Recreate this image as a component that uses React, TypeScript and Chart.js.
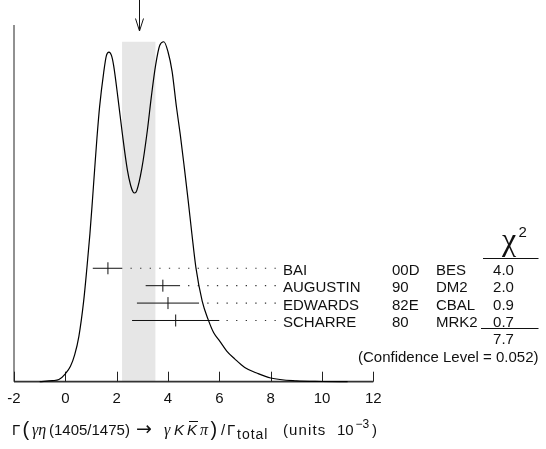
import React, { useEffect, useRef } from 'react';
import { Chart, registerables } from 'chart.js';

Chart.register(...registerables);

// Ideogram curve
const CURVE_X = [-1.0, -0.5, -0.25, 0.0, 0.2, 0.363, 0.53, 0.713, 0.842, 0.959, 1.053, 1.142, 1.232, 1.337, 1.493, 1.6, 1.7, 1.8, 1.883, 2.051, 2.222, 2.417, 2.546, 2.64, 2.7, 2.78, 2.986, 3.197, 3.353, 3.52, 3.68, 3.84, 4.0, 4.16, 4.33, 4.48, 4.64, 4.788, 4.932, 5.088, 5.333, 5.567, 5.782, 6.016, 6.29, 6.6, 6.99, 7.5, 8.0, 9.0, 10.0, 11.0];
const CURVE_Y = [0, 0.3, 0.6, 2.2, 4.3, 7.5, 12.8, 22.5, 32, 41.5, 50.5, 59.5, 68.3, 77.2, 86.6, 91.4, 92.4, 91.4, 88.6, 79.5, 69.5, 59.4, 55.0, 53.2, 52.9, 53.5, 60.0, 70.5, 80.0, 88.8, 94.3, 95.3, 92.5, 87.0, 77.0, 69.2, 59.8, 50.7, 41.4, 32.0, 22.6, 17.4, 13.7, 11.4, 8.6, 6.4, 4.0, 2.3, 1.04, 0.22, 0.05, 0];

// Measurements
const NAMES = ['BAI', 'AUGUSTIN', 'EDWARDS', 'SCHARRE'];
const YEARS = ['00D', '90', '82E', '80'];
const EXPTS = ['BES', 'DM2', 'CBAL', 'MRK2'];
const VALUES = [1.66, 3.8, 4.0, 4.3];
const ERR_LO = [0.59, 0.67, 1.21, 1.7];
const ERR_HI = [0.56, 0.67, 1.21, 1.7];
const CHI2 = ['4.0', '2.0', '0.9', '0.7'];
const CHI2_TOTAL = '7.7';
const CONF_LEVEL = '0.052';

// Fit (weighted average) and its error
const FIT_VALUE = 2.86;
const FIT_ERROR = 0.65;

const X_TICKS = [-2, 0, 2, 4, 6, 8, 10, 12];

const SANS = '"Liberation Sans", Arial, sans-serif';
const SERIF = '"Liberation Serif", "Times New Roman", serif';
const DEJAVU = '"DejaVu Sans", sans-serif';

export default function App() {
  const ref = useRef<HTMLCanvasElement>(null);

  useEffect(() => {
    const canvas = ref.current;
    if (!canvas) return;

    const rowY = (i: number) => 31.8 - i * 4.88;
    const DOT_END = 8.2;

    const datasets: any[] = [];
    datasets.push({
      data: CURVE_X.map((x, i) => ({ x, y: CURVE_Y[i] })),
      showLine: true,
      borderColor: '#000',
      borderWidth: 1.2,
      pointRadius: 0,
      cubicInterpolationMode: 'monotone',
      tension: 0.4,
      fill: false,
      clip: false,
    });
    NAMES.forEach((_, i) => {
      const y = rowY(i);
      const lo = VALUES[i] - ERR_LO[i];
      const hi = VALUES[i] + ERR_HI[i];
      datasets.push({
        data: [{ x: DOT_END, y }, { x: hi, y }],
        showLine: true,
        borderColor: '#333',
        borderWidth: 1.2,
        borderDash: [1.3, 8.3],
        pointRadius: 0,
      });
      datasets.push({
        data: [{ x: lo, y }, { x: hi, y }],
        showLine: true,
        borderColor: '#111',
        borderWidth: 1,
        pointRadius: 0,
      });
      datasets.push({
        data: [{ x: VALUES[i], y }],
        showLine: false,
        pointStyle: 'line',
        rotation: 90,
        pointRadius: 6,
        borderColor: '#111',
        borderWidth: 1,
      });
    });

    const deco = {
      id: 'deco',
      beforeDatasetsDraw(chart: any) {
        const { ctx, chartArea, scales } = chart;
        const x = scales.x;
        const y = scales.y;
        ctx.save();
        const top = y.getPixelForValue(Math.max(...CURVE_Y));
        const l = x.getPixelForValue(FIT_VALUE - FIT_ERROR);
        const r = x.getPixelForValue(FIT_VALUE + FIT_ERROR);
        ctx.fillStyle = '#e6e6e6';
        ctx.fillRect(l, top, r - l, chartArea.bottom - top);

        ctx.strokeStyle = '#222';
        ctx.lineWidth = 1;
        ctx.beginPath();
        ctx.moveTo(chartArea.left, chartArea.top);
        ctx.lineTo(chartArea.left, chartArea.bottom);
        ctx.stroke();

        ctx.lineWidth = 1.8;
        ctx.strokeStyle = '#333';
        ctx.beginPath();
        ctx.moveTo(x.getPixelForValue(X_TICKS[0]), chartArea.bottom);
        ctx.lineTo(x.getPixelForValue(X_TICKS[X_TICKS.length - 1]), chartArea.bottom);
        ctx.stroke();

        ctx.lineWidth = 1;
        ctx.strokeStyle = '#222';
        X_TICKS.forEach((t) => {
          const px = Math.round(x.getPixelForValue(t)) + 0.5;
          ctx.beginPath();
          ctx.moveTo(px, chartArea.bottom);
          ctx.lineTo(px, chartArea.bottom - 10);
          ctx.stroke();
        });
        ctx.restore();
      },
      afterDraw(chart: any) {
        const { ctx, scales } = chart;
        const x = scales.x;
        const y = scales.y;
        ctx.save();
        ctx.fillStyle = '#111';
        ctx.strokeStyle = '#111';

        // tick labels
        ctx.font = `15px ${SANS}`;
        ctx.textAlign = 'center';
        ctx.textBaseline = 'alphabetic';
        X_TICKS.forEach((t) => {
          ctx.fillText(String(t), x.getPixelForValue(t), 403);
        });

        // arrow at the fit value
        const ax = Math.round(x.getPixelForValue(FIT_VALUE)) + 0.5;
        ctx.lineWidth = 1;
        ctx.beginPath();
        ctx.moveTo(ax, 0);
        ctx.lineTo(ax, 31);
        ctx.moveTo(ax - 4, 18.5);
        ctx.lineTo(ax, 31);
        ctx.lineTo(ax + 4, 18.5);
        ctx.stroke();

        // measurement labels
        ctx.font = `15px ${SANS}`;
        NAMES.forEach((n, i) => {
          const py = y.getPixelForValue(rowY(i)) + 1.3;
          const base = py + 5.3;
          ctx.textAlign = 'left';
          ctx.fillText(n, 283, base);
          ctx.fillText(YEARS[i], 392, base);
          ctx.fillText(EXPTS[i], 436, base);
          ctx.textAlign = 'center';
          ctx.fillText(CHI2[i], 503.5, base);
        });

        // chi2 header
        ctx.textAlign = 'center';
        ctx.font = `32px ${SERIF}`;
        ctx.fillText('χ', 509, 250);
        ctx.textAlign = 'left';
        ctx.font = `15px ${SANS}`;
        ctx.fillText('2', 518.5, 237);

        ctx.lineWidth = 1;
        ctx.beginPath();
        ctx.moveTo(483, 258.5);
        ctx.lineTo(538.5, 258.5);
        ctx.moveTo(481, 328.5);
        ctx.lineTo(538.5, 328.5);
        ctx.stroke();

        ctx.textAlign = 'center';
        ctx.font = `15px ${SANS}`;
        ctx.fillText(CHI2_TOTAL, 503.5, 343.5);
        ctx.textAlign = 'right';
        ctx.fillText(`(Confidence Level = ${CONF_LEVEL})`, 538.5, 361.5);

        // x axis title, pieces placed along the baseline
        const segs: any[] = [
          { t: 'Γ', x: 12, f: `15px ${SANS}` },
          { t: '(', x: 22.5, f: `20px ${SANS}`, dy: 1 },
          { t: 'γη', x: 32, f: `italic 16px ${SERIF}` },
          { t: '(1405/1475)', x: 49, f: `15px ${SANS}` },
          { t: '→', x: 136, f: `19px ${DEJAVU}` },
          { t: 'γ', x: 164, f: `italic 16px ${SERIF}` },
          { t: 'K', x: 174, f: `italic 15px ${SANS}` },
          { t: 'K', x: 187, f: `italic 15px ${SANS}`, over: true },
          { t: 'π', x: 200, f: `italic 16px ${SERIF}` },
          { t: ')', x: 210.5, f: `20px ${SANS}`, dy: 1 },
          { t: '/', x: 221, f: `15px ${SANS}` },
          { t: 'Γ', x: 227, f: `15px ${SANS}` },
          { t: 'total', x: 237, f: `14px ${SANS}`, dy: 4, ls: 1 },
          { t: '(units', x: 283, f: `15px ${SANS}`, ls: 1.1 },
          { t: '10', x: 337, f: `15px ${SANS}` },
          { t: '−3', x: 355.5, f: `12px ${SANS}`, dy: -7 },
          { t: ')', x: 372, f: `15px ${SANS}` },
        ];
        ctx.textAlign = 'left';
        const baseY = 435;
        const c2: any = ctx;
        segs.forEach((s) => {
          ctx.font = s.f;
          c2.letterSpacing = s.ls ? `${s.ls}px` : '0px';
          const nat = ctx.measureText(s.t).width;
          ctx.fillText(s.t, s.x, baseY + (s.dy || 0));
          if (s.over) {
            ctx.beginPath();
            ctx.moveTo(s.x + 2, 421.5);
            ctx.lineTo(s.x + nat + 1, 421.5);
            ctx.stroke();
          }
        });
        c2.letterSpacing = '0px';

        ctx.restore();
      },
    };

    const chart = new Chart(canvas, {
      type: 'scatter',
      data: { datasets },
      options: {
        animation: false,
        responsive: false,
        events: [],
        layout: { padding: { left: 14, right: 172.7, top: 25, bottom: 67.3 } },
        scales: {
          x: { type: 'linear', min: -2, max: 12, display: false },
          y: { type: 'linear', min: 0, max: 100, display: false },
        },
        plugins: {
          legend: { display: false },
          tooltip: { enabled: false },
          title: { display: false },
        },
      },
      plugins: [deco],
    } as any);

    return () => chart.destroy();
  }, []);

  return (
    <div style={{ position: 'fixed', left: 0, top: 0, width: 546, height: 449, background: '#fff' }}>
      <canvas ref={ref} width={546} height={449} style={{ display: 'block', width: 546, height: 449 }} />
    </div>
  );
}
